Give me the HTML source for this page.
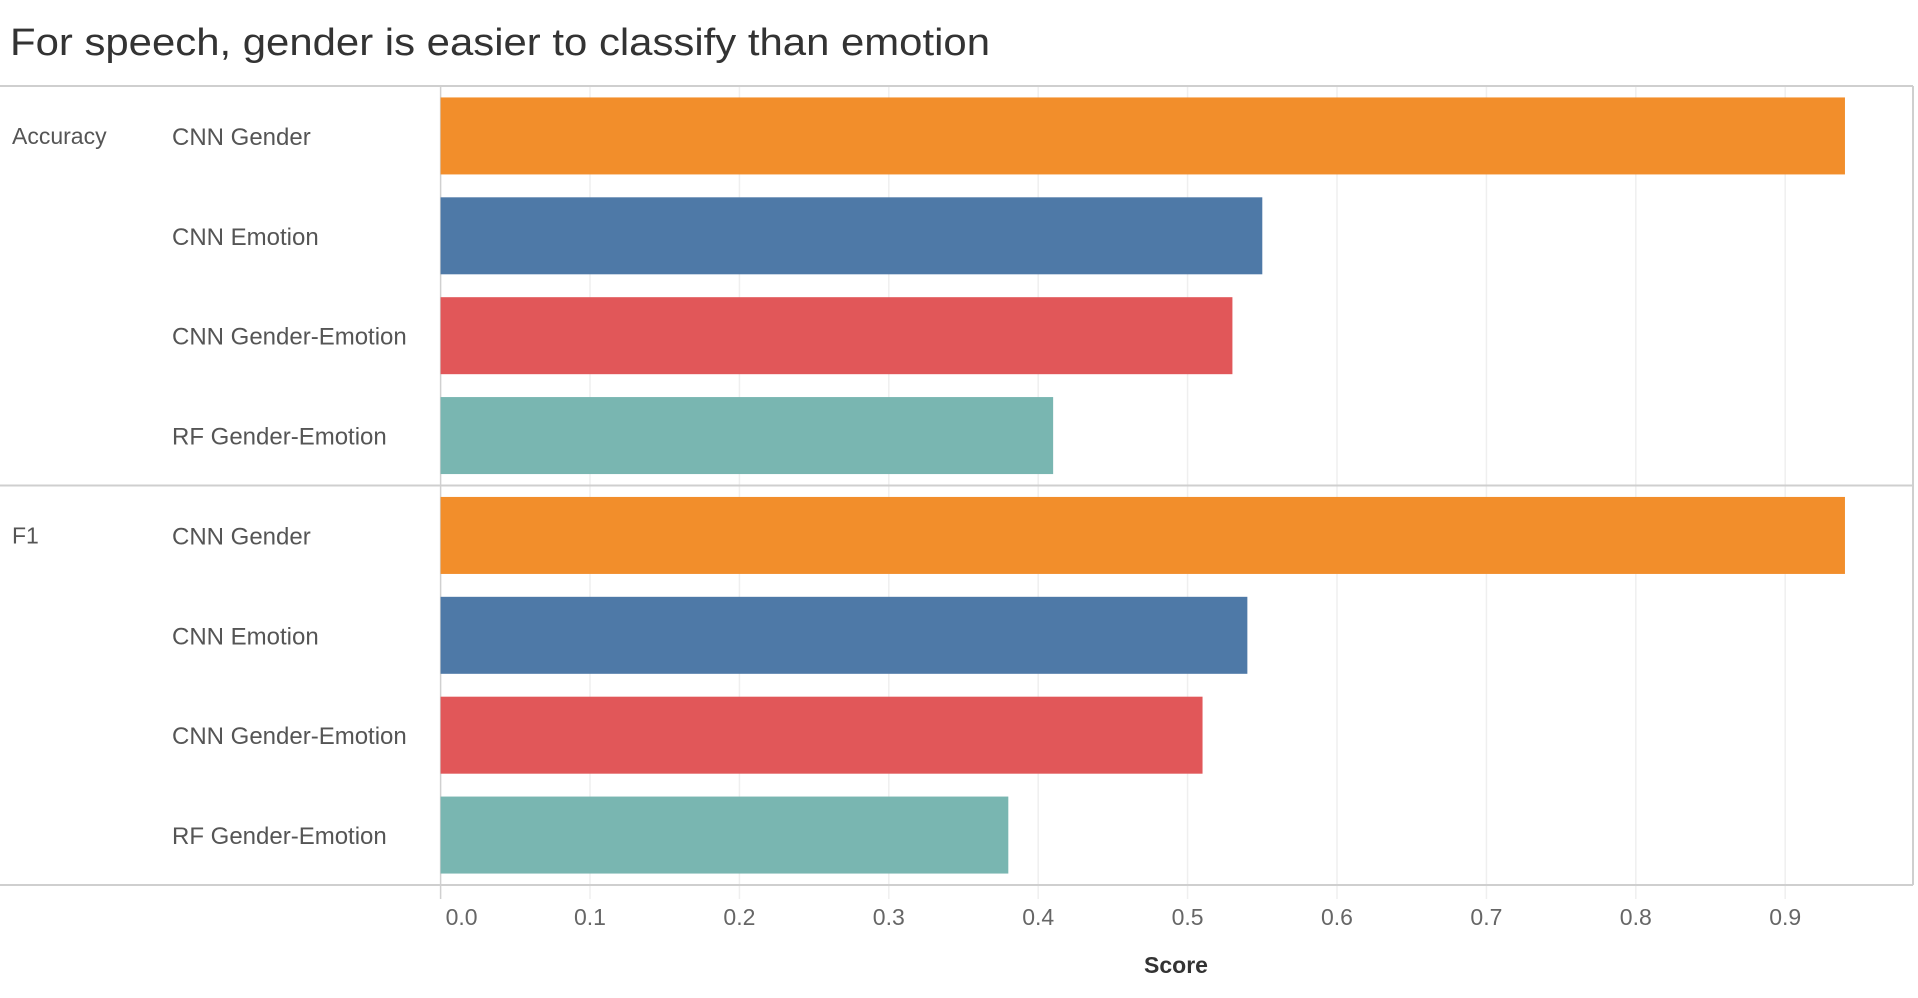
<!DOCTYPE html>
<html><head><meta charset="utf-8"><style>
html,body{margin:0;padding:0;background:#fff;}
svg{display:block;font-family:"Liberation Sans",sans-serif;}
</style></head><body>
<svg id="chart" width="1918" height="998" viewBox="0 0 1918 998" xmlns="http://www.w3.org/2000/svg">
<text x="10" y="55" font-size="38" fill="#333" textLength="980" lengthAdjust="spacingAndGlyphs">For speech, gender is easier to classify than emotion</text>
<g id="grid"></g>
<g id="bars"></g>
<g id="labels"></g>
<g id="frame"></g>
<text x="1176" y="973" font-size="23" font-weight="bold" fill="#333" text-anchor="middle">Score</text>
</svg>
<script>
const metrics = ["Accuracy", "F1"];
const models = ["CNN Gender", "CNN Emotion", "CNN Gender-Emotion", "RF Gender-Emotion"];
const accuracyValues = [0.94, 0.55, 0.53, 0.41];
const f1Values = [0.94, 0.54, 0.51, 0.38];
const tickValues = [0, 0.1, 0.2, 0.3, 0.4, 0.5, 0.6, 0.7, 0.8, 0.9];
const tickLabels = ["0.0","0.1","0.2","0.3","0.4","0.5","0.6","0.7","0.8","0.9"];
const colors = ["#f28e2b", "#4e79a7", "#e15759", "#79b6b1"];
const series = [accuracyValues, f1Values];

const NS = "http://www.w3.org/2000/svg";
const x0 = 440.6, xUnit = 1494;
const topY = 86, paneH = 399.5, rowH = paneH / 4, barH = 77;
const xs = v => x0 + v * xUnit;
function mk(tag, attrs, parent, text) {
  const e = document.createElementNS(NS, tag);
  for (const k in attrs) e.setAttribute(k, attrs[k]);
  if (text !== undefined) e.textContent = text;
  document.getElementById(parent).appendChild(e);
  return e;
}
tickValues.forEach((t, i) => {
  const x = xs(t);
  const g = mk("line", {x1: x, x2: x, y1: topY, y2: topY + 2 * paneH + 14, stroke: i === 0 ? "#d0d0d0" : "#efefef", "stroke-width": 1.5}, "grid");
  
  
  const l = mk("text", {x: i === 0 ? x + 21 : x, y: 925, "font-size": 23, fill: "#666", "text-anchor": "middle"}, "labels", tickLabels[i]);
  
  
});
metrics.forEach((m, mi) => {
  const pTop = topY + mi * paneH;
  const ml = mk("text", {x: 12, y: pTop + 58, "font-size": 23, fill: "#555"}, "labels", m);
  
  
  models.forEach((md, i) => {
    const cy = pTop + rowH * i + rowH / 2;
    const b = mk("rect", {x: x0, y: cy - barH / 2, width: xs(series[mi][i]) - x0, height: barH, fill: colors[i]}, "bars");
    
    
    const t = mk("text", {x: 172, y: cy + 9, "font-size": 24, fill: "#555"}, "labels", md);
    
    
  });
});
[[0, topY, 1913, topY], [0, topY + paneH, 1913, topY + paneH], [0, topY + 2 * paneH, 1913, topY + 2 * paneH], [1913, topY, 1913, topY + 2 * paneH]].forEach(a => {
  const l = mk("line", {x1: a[0], y1: a[1], x2: a[2], y2: a[3], stroke: "#cfcfcf", "stroke-width": 2}, "frame");
  
  
});
</script>
</body></html>
